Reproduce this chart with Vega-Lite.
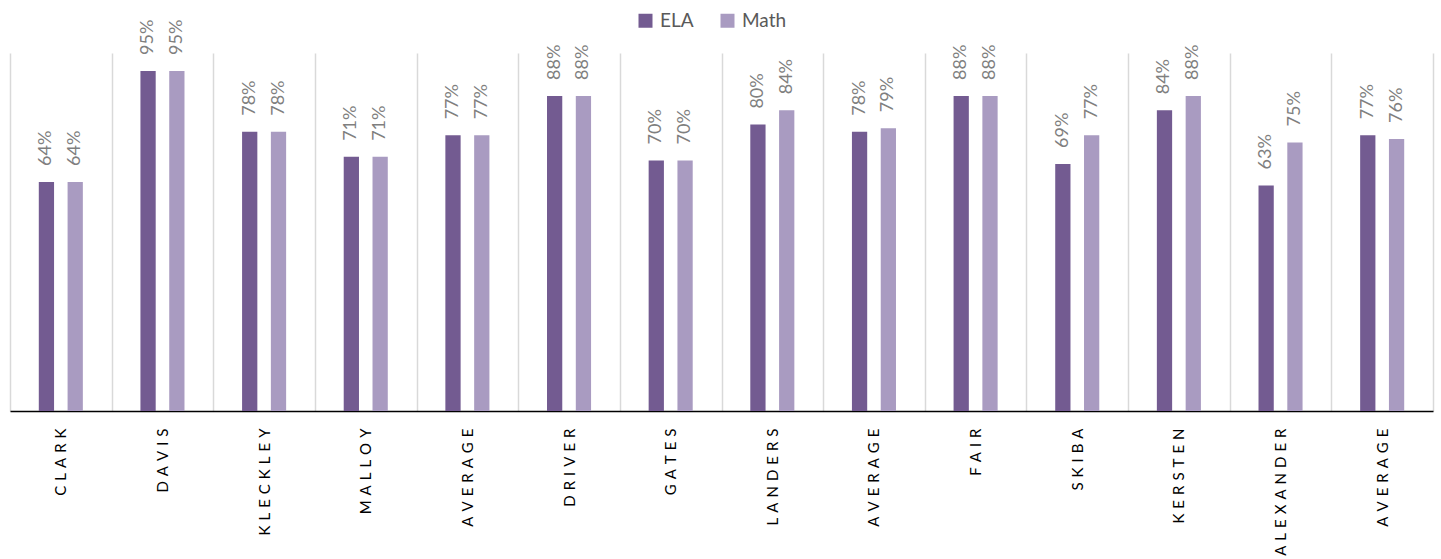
{
  "$schema": "https://vega.github.io/schema/vega-lite/v6.json",
  "width": 1423,
  "height": 358,
  "autosize": {"type": "none"},
  "padding": {"left": 10, "top": 53, "right": 8, "bottom": 148},
  "background": "white",
  "config": {"view": {"stroke": null}, "font": "Lato"},
  "data": {
    "values": [
      {"key": "CLARK", "subject": "ELA", "value": 0.64},
      {"key": "CLARK", "subject": "Math", "value": 0.64},
      {"key": "DAVIS", "subject": "ELA", "value": 0.95},
      {"key": "DAVIS", "subject": "Math", "value": 0.95},
      {"key": "KLECKLEY", "subject": "ELA", "value": 0.78},
      {"key": "KLECKLEY", "subject": "Math", "value": 0.78},
      {"key": "MALLOY", "subject": "ELA", "value": 0.71},
      {"key": "MALLOY", "subject": "Math", "value": 0.71},
      {"key": "AVERAGE|1", "subject": "ELA", "value": 0.77},
      {"key": "AVERAGE|1", "subject": "Math", "value": 0.77},
      {"key": "DRIVER", "subject": "ELA", "value": 0.88},
      {"key": "DRIVER", "subject": "Math", "value": 0.88},
      {"key": "GATES", "subject": "ELA", "value": 0.70},
      {"key": "GATES", "subject": "Math", "value": 0.70},
      {"key": "LANDERS", "subject": "ELA", "value": 0.80},
      {"key": "LANDERS", "subject": "Math", "value": 0.84},
      {"key": "AVERAGE|2", "subject": "ELA", "value": 0.78},
      {"key": "AVERAGE|2", "subject": "Math", "value": 0.79},
      {"key": "FAIR", "subject": "ELA", "value": 0.88},
      {"key": "FAIR", "subject": "Math", "value": 0.88},
      {"key": "SKIBA", "subject": "ELA", "value": 0.69},
      {"key": "SKIBA", "subject": "Math", "value": 0.77},
      {"key": "KERSTEN", "subject": "ELA", "value": 0.84},
      {"key": "KERSTEN", "subject": "Math", "value": 0.88},
      {"key": "ALEXANDER", "subject": "ELA", "value": 0.63},
      {"key": "ALEXANDER", "subject": "Math", "value": 0.75},
      {"key": "AVERAGE|3", "subject": "ELA", "value": 0.77},
      {"key": "AVERAGE|3", "subject": "Math", "value": 0.76}
    ]
  },
  "encoding": {
    "x": {
      "field": "key",
      "type": "nominal",
      "sort": null,
      "scale": {"paddingInner": 0, "paddingOuter": 0},
      "axis": {
        "title": null,
        "labelAngle": -90,
        "labelAlign": "right",
        "labelBaseline": "middle",
        "labelExpr": "isValid(datum.value) ? join(split(split(datum.value, '|')[0], ''), '\u2004') : ''",
        "labelFontSize": 15,
        "labelColor": "#000000",
        "labelPadding": 17,
        "labelLimit": 300,
        "ticks": false,
        "domainColor": "#000000",
        "domainWidth": 1.5,
        "grid": true,
        "gridColor": "#d9d9d9",
        "gridWidth": 1.5,
        "tickBand": "extent"
      }
    },
    "xOffset": {
      "field": "subject",
      "type": "nominal",
      "sort": ["ELA", "Math"],
      "scale": {"paddingInner": 0.47, "paddingOuter": 1.15}
    },
    "y": {
      "field": "value",
      "type": "quantitative",
      "scale": {"domain": [0, 1]},
      "axis": null
    }
  },
  "layer": [
    {
      "mark": {"type": "bar"},
      "encoding": {
        "color": {
          "field": "subject",
          "type": "nominal",
          "scale": {"domain": ["ELA", "Math"], "range": ["#735b91", "#a99bc1"]},
          "legend": {
            "title": null,
            "orient": "none",
            "direction": "horizontal",
            "legendX": 626,
            "legendY": -42,
            "symbolType": "square",
            "symbolSize": 196,
            "symbolStrokeWidth": 0,
            "labelFontSize": 19,
            "labelColor": "#595959",
            "labelOffset": 5,
            "columnPadding": 24
          }
        }
      }
    },
    {
      "mark": {
        "type": "text",
        "angle": 270,
        "align": "left",
        "baseline": "middle",
        "dx": 16,
        "fontSize": 18,
        "color": "#7f7f7f"
      },
      "encoding": {
        "text": {"field": "value", "type": "quantitative", "format": ".0%"}
      }
    }
  ]
}
